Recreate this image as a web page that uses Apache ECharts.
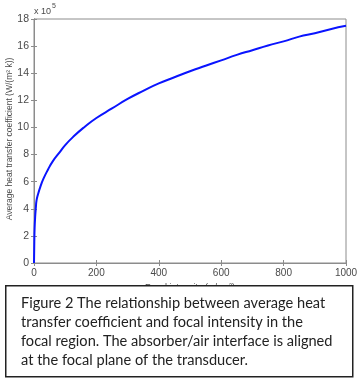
<!DOCTYPE html>
<html>
<head>
	<meta charset="utf-8">
	<title>Heat transfer coefficient</title>
	<script src="https://cdn.jsdelivr.net/npm/echarts@6/dist/echarts.min.js"></script>
	<style>
		html, body { margin: 0; padding: 0; background: #fff; }
		#chart { width: 358px; height: 379px; }
	</style>
</head>
<body>
<div id="chart"></div>
<script>
// focal intensity (w/cm^2) and average heat transfer coefficient (x 10^5 W/(m^2 k))
var intensity = [0, 1, 2, 4, 6, 8, 12, 20, 30, 45, 60, 80, 100, 130, 160, 200, 250, 300, 350, 400, 450, 500, 550, 600, 650, 700, 750, 800, 850, 900, 950, 1000];
var coefficient = [0, 1.6, 2.6, 3.5, 4.1, 4.6, 5.0, 5.6, 6.2, 6.9, 7.5, 8.1, 8.7, 9.4, 10.0, 10.7, 11.4, 12.1, 12.7, 13.25, 13.7, 14.15, 14.55, 14.95, 15.35, 15.7, 16.05, 16.35, 16.7, 16.95, 17.25, 17.5];
var yName = 'Average heat transfer coefficient (W/(m² k))';
var caption = [
	'Figure 2 The relationship between average heat',
	'transfer coefficient and focal intensity in the',
	'focal region. The absorber/air interface is aligned',
	'at the focal plane of the transducer.'
];

var chart = echarts.init(document.getElementById('chart'));
var pts = intensity.map(function (x, i) { return [x, coefficient[i]]; });
var axisGray = '#8c8c8c';
var labelColor = '#4a4a4a';

var captionTexts = caption.map(function (line, i) {
	return {
		type: 'text', left: 21, top: 296 + i * 19, z: 20,
		style: { text: line, fill: '#222', font: '14.6px Lato' }
	};
});

chart.setOption({
	animation: false,
	grid: { left: 34, right: 12, top: 19, bottom: 116, show: true, borderColor: axisGray, borderWidth: 1,
		containLabel: false, outerBoundsMode: 'none' },
	xAxis: [{
		type: 'value', min: 0, max: 1000, interval: 200,
		name: 'Focal intensity (w/cm²)', nameLocation: 'middle', nameGap: 20,
		nameTextStyle: { color: labelColor, fontSize: 9, fontFamily: 'Liberation Sans' },
		axisLine: { show: true, lineStyle: { color: axisGray } },
		axisTick: { inside: true, length: 3, lineStyle: { color: axisGray } },
		axisLabel: { color: labelColor, fontSize: 10, fontFamily: 'Liberation Sans', margin: 5,
			formatter: function (v) { return String(v); } },
		splitLine: { show: false }
	}, {
		type: 'value', position: 'top', min: 0, max: 1000, interval: 200,
		axisLine: { show: true, lineStyle: { color: axisGray } },
		axisTick: { inside: true, length: 3, lineStyle: { color: axisGray } },
		axisLabel: { show: false }, splitLine: { show: false }
	}],
	yAxis: [{
		type: 'value', min: 0, max: 18, interval: 2,
		axisLine: { show: true, lineStyle: { color: axisGray } },
		axisTick: { inside: true, length: 3, lineStyle: { color: axisGray } },
		axisLabel: { color: labelColor, fontSize: 10.5, fontFamily: 'Liberation Sans', margin: 5 },
		splitLine: { show: false }
	}, {
		type: 'value', position: 'right', min: 0, max: 18, interval: 2,
		axisLine: { show: true, lineStyle: { color: axisGray } },
		axisTick: { inside: true, length: 3, lineStyle: { color: axisGray } },
		axisLabel: { show: false }, splitLine: { show: false }
	}],
	series: [{
		type: 'line', data: pts, showSymbol: false, smooth: true,
		lineStyle: { color: '#0a14ff', width: 2 }
	}],
	graphic: [
		{ type: 'text', x: 10, y: 139, rotation: Math.PI / 2,
			style: { text: yName, fill: labelColor, font: '8.5px "Liberation Sans"', align: 'center', verticalAlign: 'middle' } },
		{ type: 'text', left: 34, top: 7, style: { text: 'x 10', fill: labelColor, font: '9px "Liberation Sans"' } },
		{ type: 'text', left: 52, top: 3, style: { text: '5', fill: labelColor, font: '7px "Liberation Sans"' } },
		{ type: 'rect', left: 5, top: 285, z: 10,
			shape: { width: 347, height: 91 },
			style: { fill: '#fff', stroke: '#222', lineWidth: 1.5 } }
	].concat(captionTexts)
});
</script>
</body>
</html>
